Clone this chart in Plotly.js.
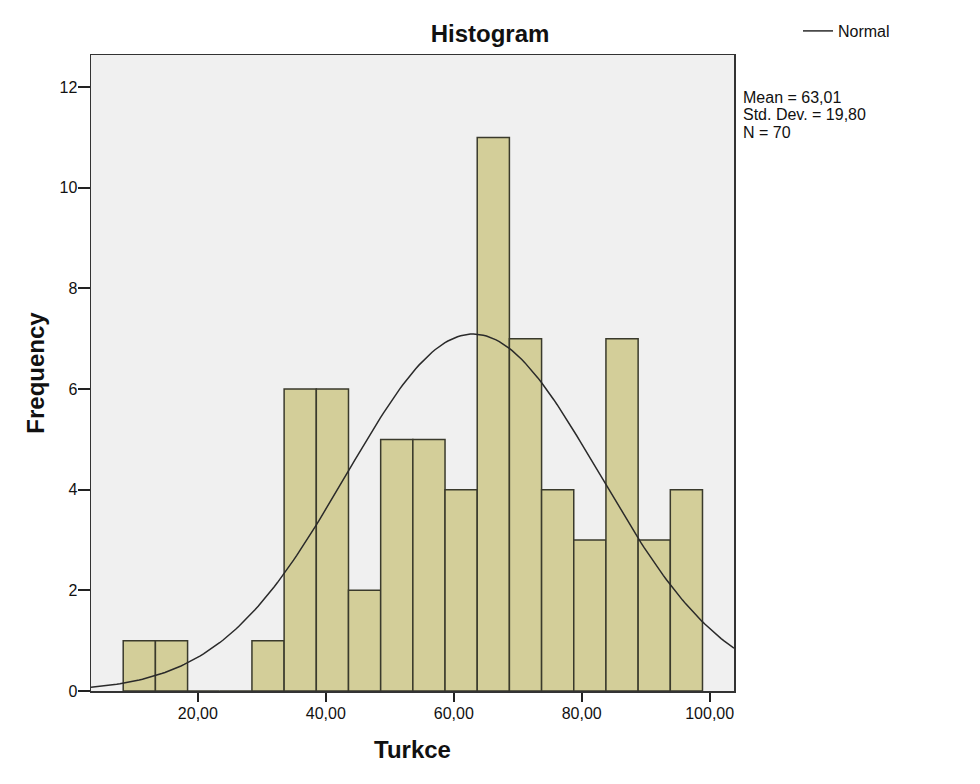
<!DOCTYPE html>
<html>
<head>
<meta charset="utf-8">
<script src="https://cdn.plot.ly/plotly-3.0.1.min.js"></script>
<style>
  html, body { margin: 0; padding: 0; background: #ffffff; }
  #chart { width: 980px; height: 784px; }
</style>
</head>
<body>
<div id="chart"></div>
<script>
// ---- Data ----
const binCenters = [10.85, 15.88, 20.91, 25.94, 30.97, 36.00, 41.03, 46.06, 51.09,
                    56.12, 61.15, 66.18, 71.21, 76.24, 81.27, 86.30, 91.33, 96.36];
const counts     = [1, 1, 0, 0, 1, 6, 6, 2, 5, 5, 4, 11, 7, 4, 3, 7, 3, 4];
const binWidth   = 5.03;

// Summary statistics printed on the chart
const MEAN = 63.01;
const SD = 19.80;
const N = 70;

const xTickVals = [20, 40, 60, 80, 100];
const xTickText = ["20,00", "40,00", "60,00", "80,00", "100,00"];
const yTickVals = [0, 2, 4, 6, 8, 10, 12];
const yTickText = ["0", "2", "4", "6", "8", "10", "12"];

const statLines = ["Mean = 63,01", "Std. Dev. = 19,80", "N = 70"];

// ---- Normal curve from the printed statistics ----
const xRange = [3.3, 103.8];
const curveX = [], curveY = [];
for (let i = 0; i <= 200; i++) {
  const x = xRange[0] + (xRange[1] - xRange[0]) * i / 200;
  const z = (x - MEAN) / SD;
  curveX.push(x);
  curveY.push(N * binWidth * Math.exp(-0.5 * z * z) / (SD * Math.sqrt(2 * Math.PI)));
}

const FONT = "Liberation Sans, Arial, sans-serif";

const bars = {
  type: "bar",
  x: binCenters,
  y: counts,
  width: binWidth,
  marker: { color: "#d3ce99", line: { color: "#3a3a2c", width: 1.5 } },
  showlegend: false,
  hoverinfo: "x+y"
};

const curve = {
  type: "scatter",
  mode: "lines",
  x: curveX,
  y: curveY,
  name: "Normal",
  line: { color: "#2a2a2a", width: 1.5 },
  showlegend: true
};

const annotations = statLines.map((t, i) => ({
  xref: "paper", yref: "paper",
  x: (741 - 91) / 643, y: (691 - (97 + i * 17.5)) / 636,
  xanchor: "left", yanchor: "middle",
  text: t, showarrow: false,
  font: { family: FONT, size: 16, color: "#111" }
}));

const layout = {
  width: 980, height: 784,
  margin: { l: 91, r: 246, t: 55, b: 93, pad: 0 },
  paper_bgcolor: "#ffffff",
  plot_bgcolor: "#f0f0f0",
  font: { family: FONT, size: 16, color: "#111" },
  bargap: 0,
  title: {
    text: "<b>Histogram</b>",
    font: { family: FONT, size: 24, color: "#111" },
    x: 0.5, xref: "container", xanchor: "center",
    y: 1 - 34 / 784, yref: "container", yanchor: "middle"
  },
  xaxis: {
    range: xRange,
    tickvals: xTickVals, ticktext: xTickText,
    ticks: "outside", ticklen: 9, tickwidth: 2, tickcolor: "#222",
    ticklabelstandoff: -2,
    showline: true, linecolor: "#333", linewidth: 1.5, mirror: true,
    showgrid: false, zeroline: false,
    tickfont: { family: FONT, size: 16, color: "#111" },
    title: { text: "<b>Turkce</b>", font: { family: FONT, size: 24, color: "#111" }, standoff: 20 }
  },
  yaxis: {
    range: [0, 12.64],
    tickvals: yTickVals, ticktext: yTickText,
    ticks: "outside", ticklen: 12, tickwidth: 2, tickcolor: "#222",
    ticklabelstandoff: -3,
    showline: true, linecolor: "#333", linewidth: 1.5, mirror: true,
    showgrid: false, zeroline: false,
    tickfont: { family: FONT, size: 16, color: "#111" },
    title: { text: "<b>Frequency</b>", font: { family: FONT, size: 24, color: "#111" }, standoff: 8 }
  },
  showlegend: true,
  legend: {
    x: (798 - 91) / 643, y: (691 - 31) / 636,
    xanchor: "left", yanchor: "middle",
    bgcolor: "rgba(0,0,0,0)", borderwidth: 0,
    font: { family: FONT, size: 16, color: "#111" },
    itemwidth: 30
  },
  annotations: annotations
};

Plotly.newPlot("chart", [bars, curve], layout, { displayModeBar: false, staticPlot: true });
</script>
</body>
</html>
